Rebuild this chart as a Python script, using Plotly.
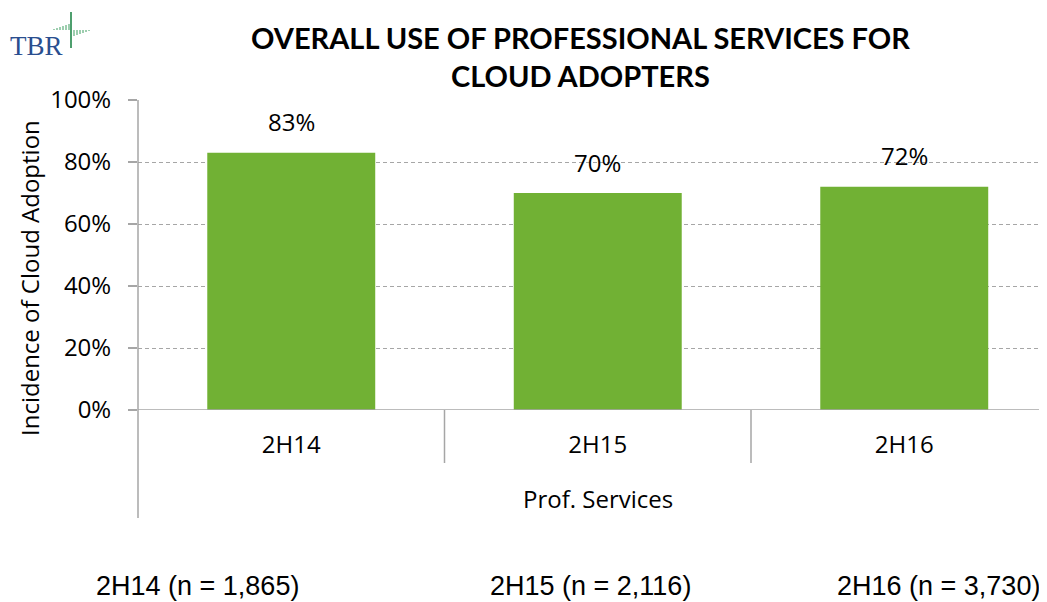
import plotly.graph_objects as go

categories = ["2H14", "2H15", "2H16"]
values = [83, 70, 72]
sample_labels = ["2H14 (n = 1,865)", "2H15 (n = 2,116)", "2H16 (n = 3,730)"]
y_ticks = [0, 20, 40, 60, 80, 100]
y_tick_text = ["0%", "20%", "40%", "60%", "80%", "100%"]

BAR = "#71B134"
GRID = "#A6A6A6"
FONT = "Open Sans, Segoe UI, sans-serif"

OFF = 8  # page body margin
W, H = 1047 - OFF, 602 - OFF
ML, MR, MT = 138 - OFF, 0, 100 - OFF
PH = 310
MB = H - MT - PH
PW = W - ML - MR
CAT_W = 306.5

def px_x(p):  # screenshot pixel x -> paper x
    return (p - OFF - ML) / PW

def px_y(p):  # screenshot pixel y -> paper y
    return 1 - ((p - OFF) - MT) / PH

fig = go.Figure()
fig.add_trace(go.Bar(
    x=list(range(len(categories))), y=values,
    marker=dict(color=BAR, line=dict(width=0)),
    width=0.548, hoverinfo="skip"
))

fig.update_layout(
    width=W, height=H,
    margin=dict(l=ML, r=MR, t=MT, b=MB, autoexpand=False),
    paper_bgcolor="white", plot_bgcolor="white",
    showlegend=False,
    font=dict(family=FONT, size=24, color="#000000"),
    xaxis=dict(
        range=[-0.5, -0.5 + PW / CAT_W],
        tickvals=list(range(len(categories))), ticktext=categories,
        showgrid=False, zeroline=False, showline=False, ticks="",
        ticklabelstandoff=18, automargin=False,
        tickfont=dict(family=FONT, size=24, color="#000000"),
    ),
    yaxis=dict(
        range=[0, 100],
        tickvals=y_ticks, ticktext=y_tick_text,
        showgrid=True, gridcolor=GRID, griddash="4px,3px", gridwidth=1,
        zeroline=False, showline=False, automargin=False,
        ticks="outside", ticklen=9, tickcolor=GRID, tickwidth=1.5,
        ticklabelstandoff=12,
        tickfont=dict(family=FONT, size=24, color="#000000"),
    ),
)

# zero line (solid)
fig.add_shape(type="line", xref="paper", yref="y", x0=0, x1=1, y0=0, y1=0,
              line=dict(color=GRID, width=1.5))
# left axis line extended below
fig.add_shape(type="line", xref="paper", yref="paper", x0=0, x1=0,
              y0=1, y1=px_y(518), line=dict(color=GRID, width=1.5))
# category separators
for b in [0.5, 1.5]:
    fig.add_shape(type="line", xref="x", yref="paper", x0=b, x1=b,
                  y0=0, y1=px_y(463), line=dict(color=GRID, width=1.5))

# data labels
for i, v in enumerate(values):
    fig.add_annotation(x=i, y=v, xref="x", yref="y", text=f"{v}%",
                       showarrow=False, yshift=31, yanchor="middle",
                       font=dict(family=FONT, size=24, color="#000000"))

# group label
fig.add_annotation(x=1, y=px_y(498), xref="x", yref="paper", text="Prof. Services",
                   showarrow=False, yanchor="middle",
                   font=dict(family=FONT, size=24, color="#000000"))

# y axis title
fig.add_annotation(x=px_x(29), y=px_y(278), xref="paper", yref="paper",
                   text="Incidence of Cloud Adoption",
                   textangle=-90, showarrow=False, xanchor="center", yanchor="middle",
                   font=dict(family=FONT, size=24, color="#000000"))

# bottom sample labels
for xc, t in zip([197, 590, 938], sample_labels):
    fig.add_annotation(x=px_x(xc), y=px_y(586), xref="paper", yref="paper", text=t,
                       showarrow=False, xanchor="center", yanchor="middle",
                       font=dict(family="Liberation Sans Narrow, Arial Narrow, sans-serif",
                                 size=27, color="#000000"))

# title
fig.add_annotation(x=px_x(580), y=px_y(56), xref="paper", yref="paper",
                   text="<b>OVERALL USE OF PROFESSIONAL SERVICES FOR<br>CLOUD ADOPTERS</b>",
                   showarrow=False, xanchor="center", yanchor="middle", align="center",
                   font=dict(family="Lato, sans-serif", size=29, color="#000000"))

# logo
fig.add_annotation(x=px_x(8), y=px_y(46), xref="paper", yref="paper",
                   text="TBR", showarrow=False, xanchor="left", yanchor="middle",
                   font=dict(family="Liberation Serif, serif", size=27, color="#2A4E8F"))
fig.add_shape(type="line", xref="paper", yref="paper",
              x0=px_x(71), x1=px_x(71), y0=px_y(12), y1=px_y(48),
              line=dict(color="#4E9F6E", width=2))
# left half of the logo waveform rises above the baseline, right half drops below
for xs, h in [(54, 1), (57, 2), (60, 3), (63, 4), (66, 5), (69, 6)]:
    fig.add_shape(type="line", xref="paper", yref="paper",
                  x0=px_x(xs), x1=px_x(xs), y0=px_y(30 - h), y1=px_y(30),
                  line=dict(color="#7DBE95", width=1.5))
for xs, h in [(74, 6), (77, 5), (80, 4), (83, 3), (86, 2), (89, 1)]:
    fig.add_shape(type="line", xref="paper", yref="paper",
                  x0=px_x(xs), x1=px_x(xs), y0=px_y(30), y1=px_y(30 + h),
                  line=dict(color="#7DBE95", width=1.5))

fig.write_html("out.html")
